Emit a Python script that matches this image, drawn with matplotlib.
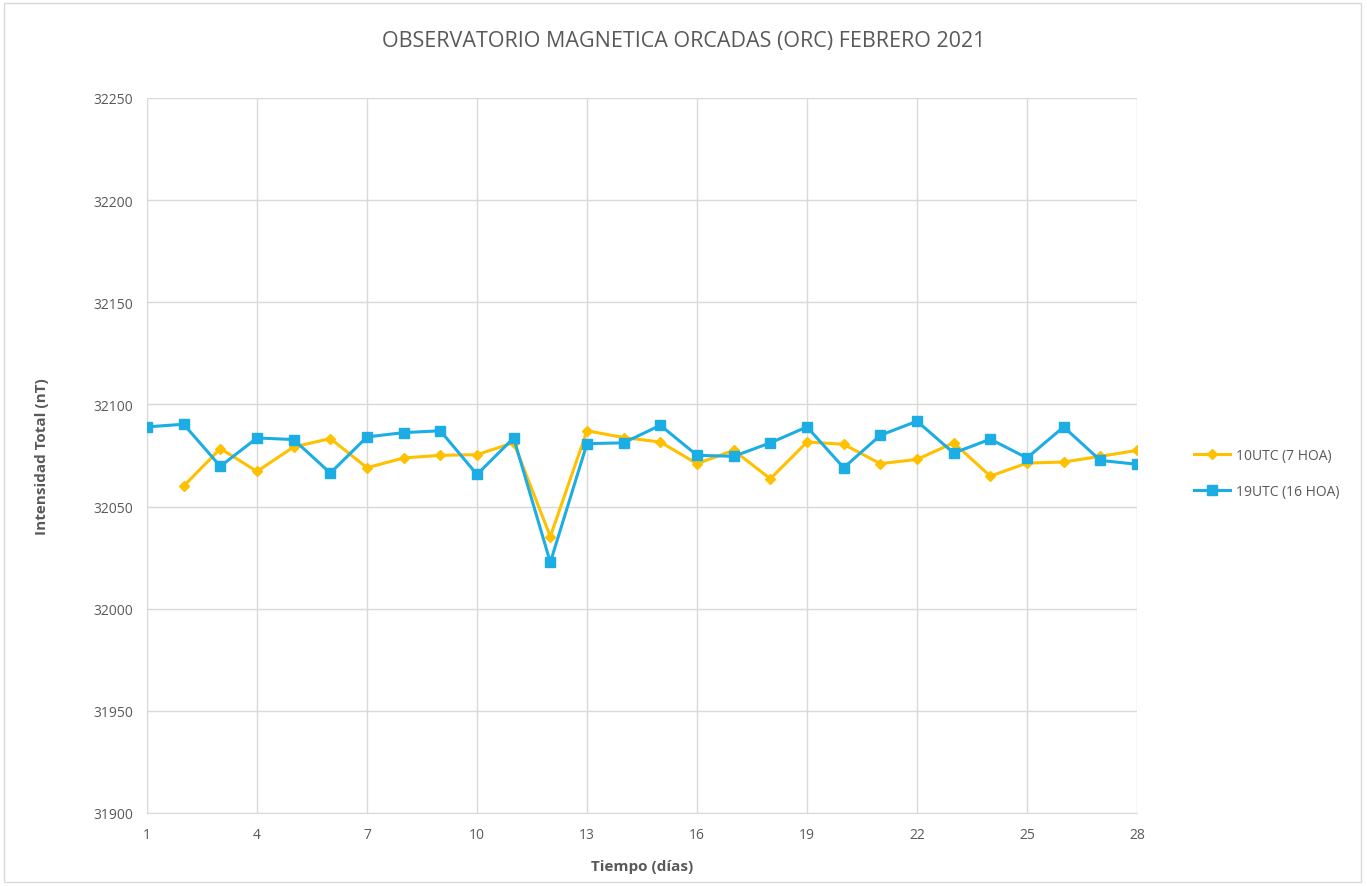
import matplotlib
matplotlib.use("Agg")
import matplotlib.pyplot as plt
from matplotlib.patches import Rectangle

plt.rcParams["font.family"] = ["Open Sans", "DejaVu Sans"]

days = list(range(1, 29))
xticks = list(range(1, 29, 3))
yticks = [31900, 31950, 32000, 32050, 32100, 32150, 32200, 32250]

# 10UTC (7 HOA) - no value on day 1
utc10 = [None, 32060.0, 32078.4, 32067.2, 32079.2, 32083.3, 32069.0, 32073.8,
         32075.1, 32075.4, 32081.3, 32035.3, 32087.1, 32083.8, 32081.6, 32071.0,
         32077.5, 32063.6, 32081.6, 32080.5, 32071.0, 32073.1, 32081.2, 32064.9,
         32071.3, 32071.8, 32074.6, 32077.5]
# 19UTC (16 HOA)
utc19 = [32089.0, 32090.3, 32069.7, 32083.6, 32082.8, 32066.4, 32084.1, 32086.2,
         32087.1, 32065.7, 32083.6, 32022.7, 32080.8, 32081.2, 32089.8, 32075.1,
         32074.6, 32081.2, 32089.0, 32069.0, 32084.9, 32091.8, 32076.2, 32083.0,
         32073.8, 32089.0, 32072.6, 32070.7]

text_col = "#595959"
grid_col = "#d9d9d9"

fig = plt.figure(figsize=(13.67, 8.87), dpi=100)
ax = fig.add_axes([147 / 1367, 1 - 814 / 887, (1137 - 147) / 1367, (814 - 99) / 887])

d10 = [d for d, v in zip(days, utc10) if v is not None]
v10 = [v for v in utc10 if v is not None]
ax.plot(d10, v10, color="#FFC000", lw=2.2, marker="D", ms=5,
        label="10UTC (7 HOA)", zorder=3)
ax.plot(days, utc19, color="#1CADE4", lw=2.2, marker="s", ms=7.5,
        label="19UTC (16 HOA)", zorder=4)

ax.set_xlim(1, 28)
ax.set_ylim(31900, 32250)
ax.set_xticks(xticks)
ax.set_yticks(yticks)
ax.grid(True, color=grid_col, lw=1)
ax.set_axisbelow(True)
for s in ["top", "right"]:
    ax.spines[s].set_visible(False)
ax.spines["left"].set_color(grid_col)
ax.spines["bottom"].set_color(grid_col)
ax.tick_params(length=0, colors=text_col, labelsize=10, pad=10)

ax.set_xlabel("Tiempo (días)", fontsize=11, fontweight="bold", color=text_col, labelpad=12)
ax.set_ylabel("Intensidad Total (nT)", fontsize=11, fontweight="bold", color=text_col, labelpad=32)

fig.text(0.5, 1 - 42 / 887, "OBSERVATORIO MAGNETICA ORCADAS (ORC) FEBRERO 2021",
         ha="center", va="center", fontsize=15.5, color=text_col)

ax.legend(loc="center left", bbox_to_anchor=(1.045, 0.475), frameon=False,
          fontsize=10, labelcolor=text_col, handlelength=2.6, labelspacing=1.5,
          handletextpad=0.4)

# chart area border
fig.patches.append(Rectangle((4 / 1367, 0.005), 1 - 10 / 1367, 0.99, transform=fig.transFigure,
                             fill=False, edgecolor="#d9d9d9", lw=1))

fig.savefig("out.png", dpi=100)
